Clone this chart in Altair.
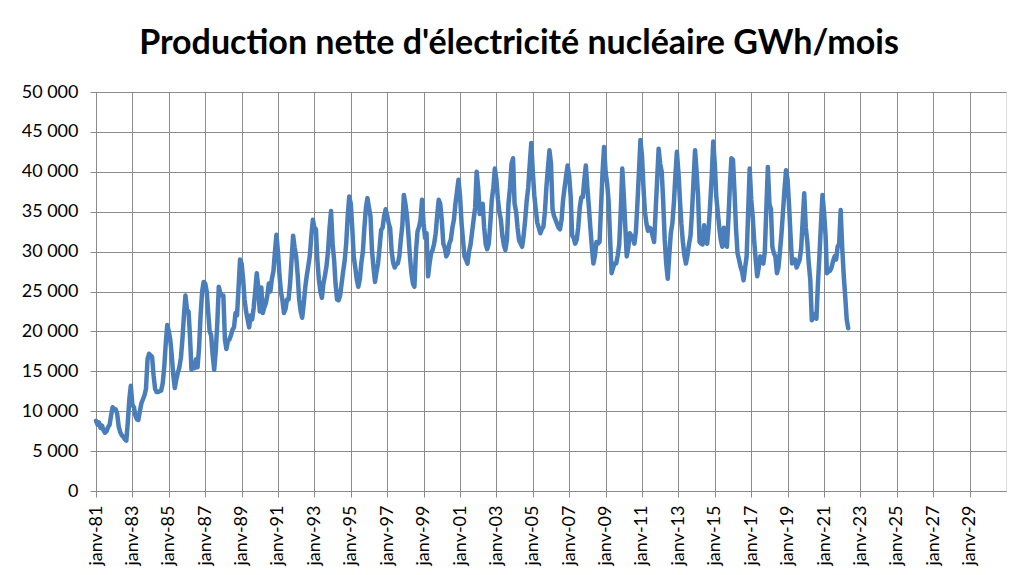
import altair as alt
import pandas as pd

# Monthly net nuclear electricity production (GWh)
prod_1981_1990 = [
    8800, 8300, 8600, 7900, 8200, 7600, 7300, 7500, 8000, 8300, 9500, 10500,
    10300, 10200, 9700, 8100, 7400, 7000, 6800, 6500, 6300, 8600, 11500, 13200,
    10800, 10500, 9500, 9000, 8900, 10000, 11000, 11500, 12000, 12800, 16500, 17200,
    17000, 16800, 14500, 12800, 12400, 12400, 12500, 12600, 13500, 15500, 18500, 20800,
    20000, 18900, 17000, 14500, 12900, 14000, 14800, 15500, 16700, 19000, 22000, 24500,
    22700, 22500, 19500, 15200, 16000, 15400, 16500, 15500, 18000, 22000, 25000, 26200,
    26000, 25000, 22500, 20000, 19500, 17000, 15200, 17500, 21000, 25600, 24800, 24500,
    24500, 19000, 17800, 18800, 19000, 19500, 20200, 20500, 22300, 22000, 25500, 29000,
    28500, 26500, 24000, 22500, 21500, 20500, 22000, 21500, 23000, 25000, 27300, 25500,
    22500, 25500, 22300, 23000, 23500, 24500, 26000, 25000, 26600, 27500, 30000, 32100,
]
prod_1991_2000 = [
    30000, 27000, 25000, 23900, 22300, 22800, 24000, 24000, 26000, 29000, 32000, 30500,
    29400, 27000, 24000, 22500, 21700, 23500, 25500, 27000, 28200, 29500, 32000, 34000,
    33000, 32800, 29000, 26500, 25000, 24200, 26000, 27000, 28200, 30000, 33000, 35100,
    31000, 28900, 26000, 24000, 23900, 24500, 26000, 27500, 28900, 31000, 34500, 36900,
    36000, 32800, 29400, 28000, 26500, 25600, 26500, 28600, 30000, 33000, 35500, 36700,
    35500, 34400, 30200, 28000, 26200, 27500, 28500, 30500, 32700, 33000, 34500, 35300,
    34500, 33500, 32900, 30000, 28600, 28000, 28400, 28500, 29400, 31500, 33300, 37100,
    36000, 34500, 32300, 29500, 27300, 26000, 25600, 30000, 32500, 33100, 34000, 36500,
    33500, 31700, 32300, 26900, 28500, 29800, 30200, 31000, 32300, 34500, 36500, 36000,
    34000, 31000, 30500, 29400, 29800, 31000, 31500, 33000, 34000, 36000, 37500, 39000,
]
prod_2001_2010 = [
    37000, 33600, 31500, 29400, 29000, 28500, 30000, 30900, 32500, 34000, 35500, 40000,
    38000, 34700, 35000, 36000, 33000, 30900, 30300, 31000, 33500, 36500, 38000, 40400,
    39000, 36500, 35000, 34000, 32000, 30800, 30200, 31500, 36000, 38000, 41000, 41700,
    36000, 35000, 33000, 31400, 31000, 30600, 32000, 34000, 36400, 38000, 41000, 43600,
    40000, 37000, 35300, 33600, 33000, 32300, 32800, 33100, 35000, 38100, 40500, 42700,
    41000, 35300, 34500, 34000, 33500, 33000, 32800, 34000, 36500, 38000, 39500, 40800,
    39500, 36800, 32000, 31700, 31000, 31500, 33000, 35500, 36800, 36800, 39000, 40800,
    38000, 35500, 33000, 30500, 28500, 29500, 31200, 31000, 31200, 35500, 40000, 43100,
    40000, 38500, 36400, 31700, 27300, 28000, 28500, 28500, 29500, 30900, 35000, 40400,
    37000, 33000, 29400, 30500, 32300, 32000, 31700, 31000, 32500, 36000, 40000, 44000,
]
prod_2011_2020 = [
    42000, 37900, 35000, 33500, 32600, 33000, 32800, 32000, 31200, 35000, 39000, 42900,
    41000, 40000, 36400, 31500, 28500, 26600, 29500, 32300, 33500, 36000, 39500, 42500,
    40000, 36400, 33500, 31200, 29500, 28500, 29500, 30900, 32000, 35000, 39000, 42700,
    40000, 36800, 31200, 31000, 30900, 33300, 31500, 31000, 33000, 36000, 39500, 43800,
    41000, 36800, 35000, 33000, 31500, 30600, 33000, 31500, 30600, 34000, 38500, 41700,
    41500, 37400, 33000, 29800, 29000, 28100, 27500, 26400, 28000, 29400, 35000, 40400,
    36500, 34300, 31400, 29000, 26900, 28000, 29400, 28800, 28500, 30000, 35500, 40600,
    36000, 35300, 30600, 29800, 29400, 27300, 28000, 30000, 32300, 35000, 37900, 40200,
    39000, 35600, 32000, 28500, 29000, 29000, 28000, 28500, 29000, 30500, 34000, 37300,
    33000, 31200, 28500, 26400, 21400, 22200, 21700, 21600, 26000, 29500, 33500, 37100,
]
prod_2021_2022 = [
    35000, 32000, 27300, 27500, 27600, 28000, 28800, 29400, 29000, 30600, 31000, 35200,
    30500, 27000, 24500, 21500, 20400,
]

tick_years = list(range(1981, 2031, 2))
y_ticks = list(range(0, 50001, 5000))

values = prod_1981_1990 + prod_1991_2000 + prod_2001_2010 + prod_2011_2020 + prod_2021_2022
months = pd.date_range("1981-01-01", periods=len(values), freq="MS").strftime("%Y-%m-%d").tolist()
df = pd.DataFrame({"mois": months, "gwh": values})

FONT = "Lato"
GRID = "#8c8c8c"

x_axis = alt.Axis(
    values=[alt.DateTime(year=y, month=1, date=1, utc=True) for y in tick_years],
    labelExpr="'janv-' + utcFormat(datum.value, '%y')",
    labelAngle=270,
    labelFont=FONT,
    labelFontSize=18,
    labelColor="black",
    labelPadding=8,
    labelOverlap=False,
    labelFlush=False,
    tickSize=6,
    tickColor=GRID,
    domainColor=GRID,
    gridColor=GRID,
    grid=True,
    title=None,
)

y_axis = alt.Axis(
    values=y_ticks,
    labelExpr="replace(format(datum.value, ','), ',', ' ')",
    labelFont=FONT,
    labelFontSize=18,
    labelColor="black",
    labelPadding=12,
    tickSize=6,
    tickColor=GRID,
    domainColor=GRID,
    gridColor=GRID,
    grid=True,
    title=None,
)

chart = (
    alt.Chart(df)
    .mark_line(color="#4A7EBB", strokeWidth=4.5, strokeJoin="round", strokeCap="round")
    .encode(
        x=alt.X(
            "mois:T",
            scale=alt.Scale(
                type="utc",
                domain=[
                    alt.DateTime(year=1981, month=1, date=1, utc=True),
                    alt.DateTime(year=2031, month=1, date=1, utc=True),
                ],
            ),
            axis=x_axis,
        ),
        y=alt.Y("gwh:Q", scale=alt.Scale(domain=[0, 50000], nice=False), axis=y_axis),
    )
    .properties(
        width=910,
        height=399,
        autosize=alt.AutoSizeParams(type="none"),
        padding={"left": 88, "top": 84, "right": 2, "bottom": 80},
        title=alt.TitleParams(
            "Production nette d'électricité nucléaire GWh/mois",
            font=FONT,
            fontSize=34,
            fontWeight="bold",
            color="black",
            anchor="middle",
            dx=-32,
            offset=22,
        ),
    )
    .configure_view(stroke=GRID, strokeWidth=1)
    .configure(background="white")
)

chart.save("out.html", embed_options={"renderer": "svg", "actions": False})
